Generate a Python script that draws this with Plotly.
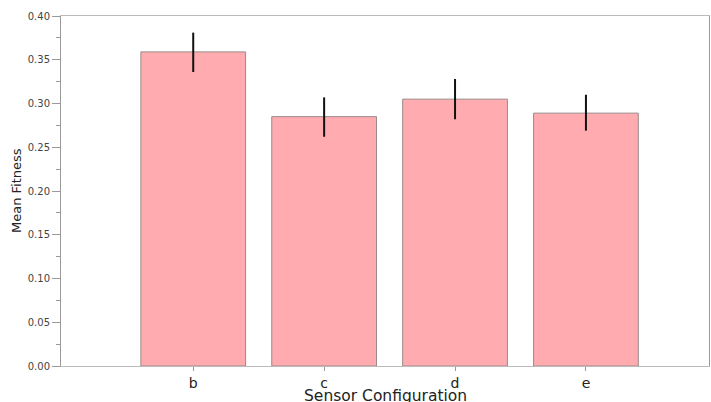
import plotly.graph_objects as go

categories = ["b", "c", "d", "e"]
mean_fitness = [0.359, 0.285, 0.305, 0.289]
err_upper = [0.022, 0.022, 0.023, 0.021]
err_lower = [0.023, 0.023, 0.023, 0.020]

font_family = "DejaVu Sans"

fig = go.Figure()
fig.add_trace(go.Bar(
    x=categories,
    y=mean_fitness,
    width=0.8,
    marker=dict(color="#FFABB0", line=dict(color="#9a8a8a", width=1)),
    error_y=dict(type="data", symmetric=False, array=err_upper, arrayminus=err_lower,
                 color="#111111", thickness=2, width=0),
))

fig.update_layout(
    width=711, height=402,
    margin=dict(l=61, r=1, t=16, b=36),
    paper_bgcolor="white", plot_bgcolor="white",
    showlegend=False,
    font=dict(family=font_family, size=10, color="#444444"),
    xaxis=dict(
        type="category", range=[-1.01, 3.94],
        showline=True, linecolor="#bbbbbb", linewidth=1, mirror=True,
        ticks="outside", ticklen=4, tickcolor="#999999",
        ticklabelstandoff=0,
        tickfont=dict(size=14, color="#222222"),
        showgrid=False, zeroline=False,
    ),
    yaxis=dict(
        range=[0, 0.4], tickvals=[0, 0.05, 0.1, 0.15, 0.2, 0.25, 0.3, 0.35, 0.4],
        tickformat=".2f",
        showline=True, linecolor="#999999", linewidth=1, mirror=True,
        ticks="outside", ticklen=8, tickcolor="#999999",
        minor=dict(dtick=0.025, ticks="outside", ticklen=4, tickcolor="#999999", showgrid=False),
        showgrid=False, zeroline=False,
        tickfont=dict(size=10, color="#444444"),
    ),
    annotations=[
        dict(text="Sensor Configuration", xref="paper", yref="paper", x=0.5, y=0,
             xanchor="center", yanchor="top", yshift=-19, showarrow=False,
             font=dict(size=15.5, color="#222222", family=font_family)),
        dict(text="Mean Fitness", xref="paper", yref="paper", x=0, y=0.5,
             xanchor="center", yanchor="middle", xshift=-45, textangle=-90, showarrow=False,
             font=dict(size=13, color="#222222", family=font_family)),
    ],
)

post = ("document.body.style.margin='0';document.body.style.padding='0';"
        "document.body.style.overflow='hidden';"
        "Plotly.relayout(document.getElementById('{plot_id}'), {width:711, height:402});")

fig.write_html("out.html", post_script=post,
               config={"responsive": False, "displayModeBar": False})
